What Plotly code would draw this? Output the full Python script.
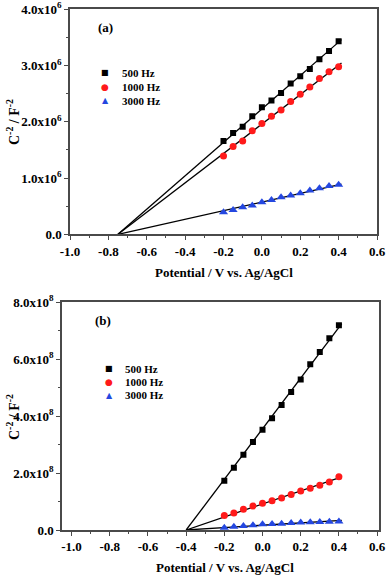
import numpy as np
import plotly.graph_objects as go

W, H = 390, 575
SERIF = "Liberation Serif, Times New Roman, serif"
AXIS_GREY = "#4a4a4a"

potential = [-0.20, -0.15, -0.10, -0.05, 0.00, 0.05, 0.10, 0.15, 0.20, 0.25, 0.30, 0.35, 0.40]
freq_labels = ["500 Hz", "1000 Hz", "3000 Hz"]
freq_colors = ["#000000", "#ff1a1a", "#2447e0"]
freq_symbols = ["square", "circle", "triangle-up"]
freq_sizes = [6, 7, 8]
legend_glyphs = ["\u25a0", "\u25cf", "\u25b2"]

# panel (a): C^-2 in 10^6 F^-2
a_500 = [1.66, 1.80, 1.91, 2.10, 2.26, 2.38, 2.51, 2.68, 2.81, 2.94, 3.11, 3.26, 3.43]
a_1000 = [1.39, 1.56, 1.66, 1.84, 1.97, 2.10, 2.21, 2.36, 2.49, 2.62, 2.77, 2.89, 2.98]
a_3000 = [0.39, 0.43, 0.48, 0.51, 0.57, 0.61, 0.66, 0.69, 0.73, 0.78, 0.82, 0.86, 0.88]
a_intercept = -0.75

# panel (b): C^-2 in 10^8 F^-2
b_500 = [1.73, 2.19, 2.64, 3.09, 3.52, 3.93, 4.39, 4.85, 5.29, 5.82, 6.25, 6.74, 7.19]
b_1000 = [0.51, 0.60, 0.73, 0.84, 0.94, 1.03, 1.12, 1.25, 1.37, 1.47, 1.57, 1.69, 1.87]
b_3000 = [0.08, 0.11, 0.14, 0.17, 0.20, 0.21, 0.22, 0.25, 0.26, 0.27, 0.28, 0.29, 0.30]
b_intercept = -0.40

fit_end = 0.415

x_ticks = [-1.0, -0.8, -0.6, -0.4, -0.2, 0.0, 0.2, 0.4, 0.6]
a_yticks = [0.0, 1.0, 2.0, 3.0, 4.0]
b_yticks = [0.0, 2.0, 4.0, 6.0, 8.0]


def px_x(v):
    return v / W


def px_y(v):
    return 1 - v / H


def fit_line(x, y, x0):
    # straight line forced through the x-intercept (Mott-Schottky extrapolation)
    x = np.asarray(x) - x0
    y = np.asarray(y)
    slope = float((x * y).sum() / (x * x).sum())
    return [x0, fit_end], [0.0, slope * (fit_end - x0)]


def y_ticktext(vals, power):
    return ["0.0" if v == 0 else f"{v:.1f}x10<sup>{power}</sup>" for v in vals]


def axis_base():
    return dict(
        showline=True, linecolor=AXIS_GREY, linewidth=1.5, mirror=True,
        ticks="outside", ticklen=4, tickwidth=1.2, tickcolor=AXIS_GREY,
        showgrid=False, zeroline=False, automargin=False,
        tickfont=dict(family=SERIF, size=13, color="black", weight="bold"),
    )


fig = go.Figure()

panels = [
    ("x", "y", [a_500, a_1000, a_3000], 1e6, a_intercept),
    ("x2", "y2", [b_500, b_1000, b_3000], 1e8, b_intercept),
]
for xa, ya, series, scale, x0 in panels:
    for vals, name, color, sym, size in zip(series, freq_labels, freq_colors, freq_symbols, freq_sizes):
        lx, ly = fit_line(potential, vals, x0)
        fig.add_trace(go.Scatter(
            x=lx, y=[v * scale for v in ly], mode="lines",
            line=dict(color="black", width=1.3), xaxis=xa, yaxis=ya, showlegend=False,
        ))
        fig.add_trace(go.Scatter(
            x=potential, y=[v * scale for v in vals], mode="markers", name=name,
            marker=dict(symbol=sym, size=size, color=color, line=dict(width=0)),
            xaxis=xa, yaxis=ya, showlegend=False,
        ))

x_text = [f"{v:.1f}" for v in x_ticks]
minor_x = dict(tickmode="linear", tick0=-1.0, dtick=0.1, ticks="outside", ticklen=2,
               tickcolor=AXIS_GREY, tickwidth=1)

fig.update_layout(
    width=W, height=H,
    margin=dict(l=0, r=0, t=0, b=0, autoexpand=False),
    paper_bgcolor="white", plot_bgcolor="white",
    showlegend=False,
    xaxis=dict(axis_base(), domain=[px_x(70), px_x(377)], range=[-1.0, 0.6], anchor="y",
               tickmode="array", tickvals=x_ticks, ticktext=x_text, minor=minor_x),
    yaxis=dict(axis_base(), domain=[px_y(234.3), px_y(9.3)], range=[0, 4.0e6], anchor="x",
               tickmode="array", tickvals=[v * 1e6 for v in a_yticks],
               ticktext=y_ticktext(a_yticks, 6),
               minor=dict(tickmode="linear", tick0=0, dtick=0.5e6, ticks="outside", ticklen=2,
                          tickcolor=AXIS_GREY, tickwidth=1)),
    xaxis2=dict(axis_base(), domain=[px_x(62), px_x(379)], range=[-1.05, 0.61], anchor="y2",
                tickmode="array", tickvals=x_ticks, ticktext=x_text, minor=minor_x),
    yaxis2=dict(axis_base(), domain=[px_y(530), px_y(302.3)], range=[0, 8.0e8], anchor="x2",
                tickmode="array", tickvals=[v * 1e8 for v in b_yticks],
                ticktext=y_ticktext(b_yticks, 8),
                minor=dict(tickmode="linear", tick0=0, dtick=1e8, ticks="outside", ticklen=2,
                           tickcolor=AXIS_GREY, tickwidth=1)),
)

font_title = dict(family=SERIF, size=13, color="black", weight="bold")
font_ytitle = dict(family=SERIF, size=14, color="black", weight="bold")
font_leg = dict(family=SERIF, size=11, color="black", weight="bold")


def note(text, x, y, font, xanchor="center", **kw):
    return dict(text=text, x=px_x(x), y=px_y(y), xref="paper", yref="paper",
                xanchor=xanchor, yanchor="middle", showarrow=False, font=font, **kw)


annotations = []
# axis titles and panel labels
for cy_title, cx_xt, cy_xt, lab, lab_x, lab_y in [
    (122, 224, 272, "(a)", 106, 28),
    (417, 225, 567, "(b)", 103, 320),
]:
    annotations.append(note("C<sup>-2</sup> / F<sup>-2</sup>", 13, cy_title, font_ytitle, textangle=-90))
    annotations.append(note("Potential / V vs. Ag/AgCl", cx_xt, cy_xt, font_title))
    annotations.append(note(lab, lab_x, lab_y, font_title))

# hand-placed legends (one per panel)
for mx, tx, rows in [(105, 120, [72.7, 87.0, 100.5]), (109, 123, [368.5, 382, 395])]:
    for glyph, name, color, gsize, ry in zip(legend_glyphs, freq_labels, freq_colors, [8, 9, 8], rows):
        annotations.append(note(glyph, mx, ry, dict(family="DejaVu Sans", size=gsize, color=color)))
        annotations.append(note(name, tx, ry, font_leg, xanchor="left"))

fig.update_layout(annotations=annotations)

# drop the browser's default body margin so the figure sits at the page corner
fig.write_html("out.html", config={"displayModeBar": False},
               post_script="document.body.style.margin='0';")
